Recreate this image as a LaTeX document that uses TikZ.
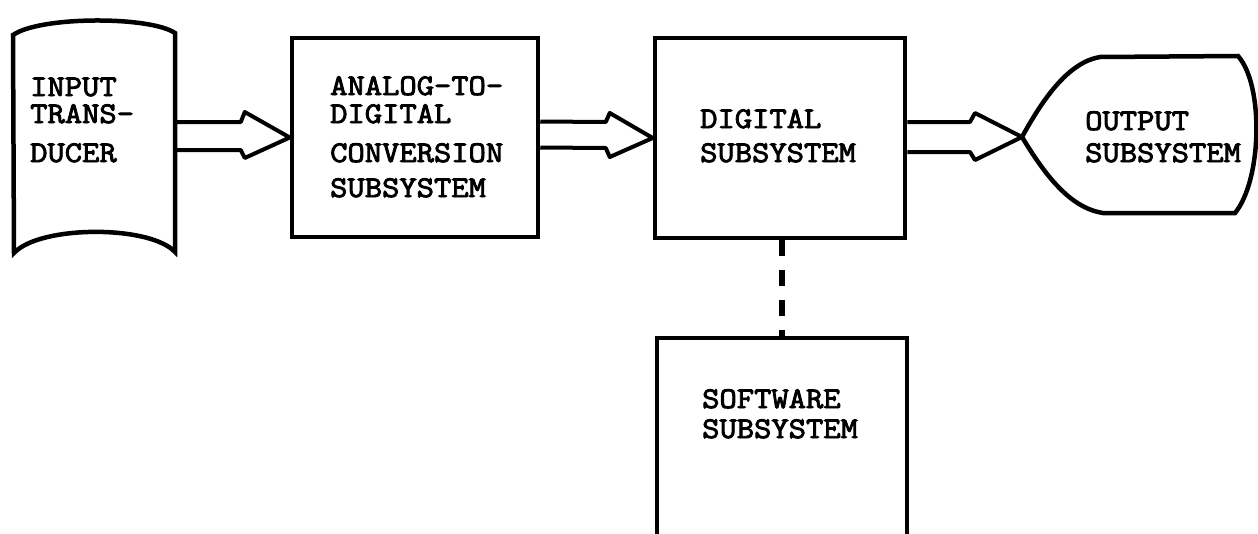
\documentclass[tikz,border=0pt]{standalone}
\usepackage{fontspec}
\newfontfamily\tw[FakeStretch=1.12,FakeBold=3]{Latin Modern Mono}
\usetikzlibrary{calc}
\begin{document}
\begin{tikzpicture}[x=1pt,y=-1pt,
  outl/.style={draw=black,line width=4.5pt,line join=miter},
  boxnode/.style={outl,rectangle,inner sep=0pt},
  hollow/.style={draw=black,line width=4pt,line join=round},
  dashlink/.style={draw=black,line width=6pt,dash pattern=on 16pt off 14pt},
  lbl/.style={anchor=base west,inner sep=0pt,text height=18pt,text depth=0pt,
    font=\tw\fontsize{30}{34}\selectfont}]
\useasboundingbox (0,0) rectangle (1258,533);

% input transducer
\draw[outl] (13,35) .. controls (40,16) and (150,16) .. (175,33) -- (175,252)
  .. controls (150,225) and (40,225) .. (14,253) -- cycle;
\coordinate (inR) at (175,137.5);

% boxes
\node[boxnode,minimum width=246pt,minimum height=199pt] (adc) at (415,137.5) {};
\node[boxnode,minimum width=250pt,minimum height=200pt] (dig) at (780,138) {};
\node[boxnode,minimum width=250pt,minimum height=240pt] (sw) at (782,458) {};

% output subsystem
\coordinate (outT) at (1022,137);
\draw[outl] (outT) .. controls (1045,95) and (1070,62) .. (1100,57) -- (1238,56)
  .. controls (1264,85) and (1262,180) .. (1235,213) -- (1103,213)
  .. controls (1070,208) and (1045,175) .. (outT) -- cycle;

% hollow arrows
\draw[hollow] ($(inR)+(0,-15.5)$) -- ($(adc.west)+(-49,-15.5)$) -- ($(adc.west)+(-45,-25.5)$)
  -- (adc.west) -- ($(adc.west)+(-45,20.5)$) -- ($(adc.west)+(-49,12.5)$) -- ($(inR)+(0,12.5)$);
\draw[hollow] ($(adc.east)+(0,-16)$) -- ($(dig.west)+(-47,-16)$) -- ($(dig.west)+(-43,-25)$)
  -- (dig.west) -- ($(dig.west)+(-43,19)$) -- ($(dig.west)+(-47,10)$) -- ($(adc.east)+(0,10)$);
\draw[hollow] ($(dig.east)+(0,-16)$) -- ($(outT)+(-52,-15)$) -- ($(outT)+(-47,-24)$)
  -- (outT) -- ($(outT)+(-47,23)$) -- ($(outT)+(-52,15)$) -- ($(dig.east)+(0,14)$);

% dashed link
\draw[dashlink] (sw.north |- dig.south) -- (sw.north);

% labels
\node[lbl] (t1) at (30,96) {INPUT};
\node[lbl] (t2) at (30,123) {TRANS-};
\node[lbl] (t3) at (30,162) {DUCER};
\node[lbl] (a1) at (330,95) {ANALOG-TO-};
\node[lbl] (a2) at (330,123) {DIGITAL};
\node[lbl] (a3) at (330,162) {CONVERSION};
\node[lbl] (a4) at (330,197) {SUBSYSTEM};
\node[lbl] (d1) at (700,128) {DIGITAL};
\node[lbl] (d2) at (700,162) {SUBSYSTEM};
\node[lbl] (o1) at (1085,130) {OUTPUT};
\node[lbl] (o2) at (1085,162) {SUBSYSTEM};
\node[lbl] (s1) at (702,408) {SOFTWARE};
\node[lbl] (s2) at (702,438) {SUBSYSTEM};
\end{tikzpicture}
\end{document}
